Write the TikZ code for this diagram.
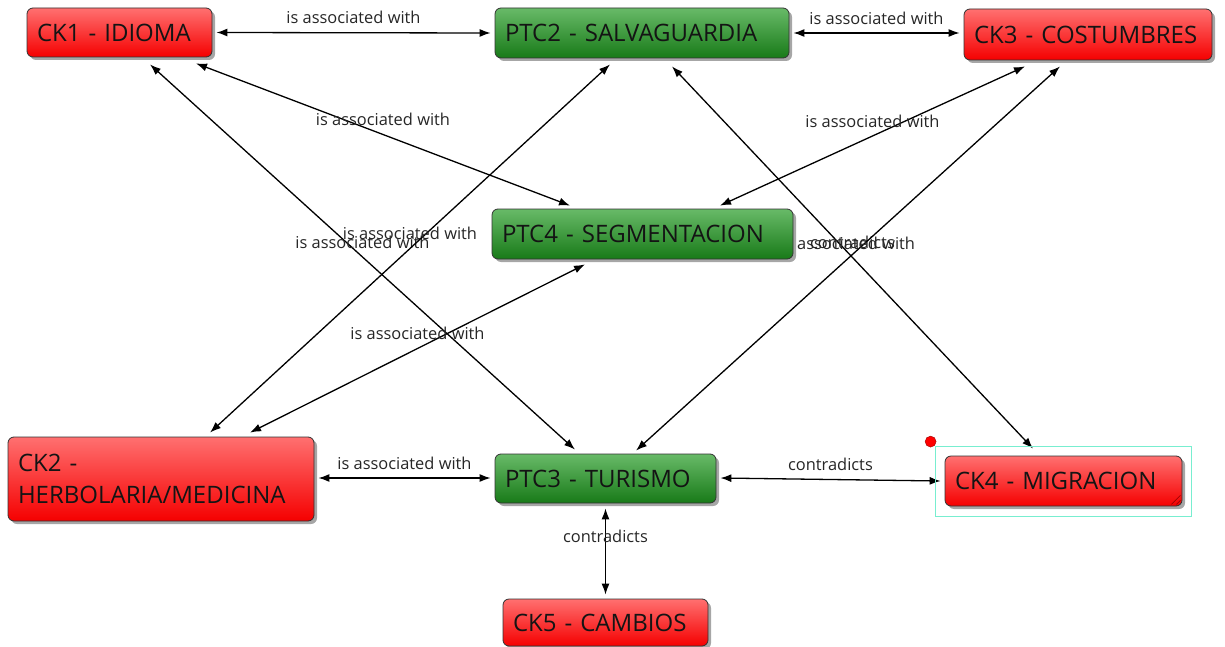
\documentclass[tikz,border=0pt]{standalone}
\usepackage{fontspec}
\setmainfont{Open Sans}
\usetikzlibrary{arrows.meta,shadows}
\pgfdeclarelayer{background}
\pgfsetlayers{background,main}
\newcommand\boxfont{\fontsize{24}{32}\selectfont}
\newcommand\linkfont{\fontsize{16.4}{19}\selectfont}
\definecolor{redtop}{RGB}{255,112,112}
\definecolor{redbot}{RGB}{245,0,0}
\definecolor{greentop}{RGB}{104,186,104}
\definecolor{greenbot}{RGB}{24,122,24}
\definecolor{selcol}{RGB}{120,238,208}
\tikzset{
  box/.style={draw=black!80, line width=0.8pt, rounded corners=6pt,
    inner xsep=10pt, inner ysep=0pt, align=left, text=black!92,
    font=\boxfont,
    drop shadow={shadow xshift=3pt, shadow yshift=-3pt, opacity=0.35, fill=black}},
  redbox/.style={box, top color=redtop, bottom color=redbot},
  greenbox/.style={box, top color=greentop, bottom color=greenbot},
  link/.style={draw=black, line width=1.3pt,
    {Latex[length=11pt,width=8pt]}-{Latex[length=11pt,width=8pt]}},
  lbl/.style={font=\linkfont, text=black!85, yshift=15pt, inner sep=0pt}
}
\begin{document}
\begin{tikzpicture}[x=1pt,y=-1pt]
\useasboundingbox (0,0) rectangle (1225,647);

% concept boxes
\node[redbox, minimum width=185pt, text width=165pt, minimum height=49pt] (ck1) at (119.5,32.5) {CK1 - IDIOMA};
\node[greenbox, minimum width=294pt, text width=274pt, minimum height=50pt] (ptc2) at (642,33) {PTC2 - SALVAGUARDIA};
\node[redbox, minimum width=248pt, text width=228pt, minimum height=51pt] (ck3) at (1088,34.5) {CK3 - COSTUMBRES};
\node[greenbox, minimum width=301pt, text width=281pt, minimum height=50pt] (ptc4) at (642.5,234) {PTC4 - SEGMENTACION};
\node[redbox, minimum width=306pt, text width=286pt, minimum height=84pt] (ck2) at (161,479) {CK2 -\\HERBOLARIA/MEDICINA};
\node[greenbox, minimum width=221pt, text width=201pt, minimum height=49pt] (ptc3) at (605.5,478.5) {PTC3 - TURISMO};
\node[redbox, minimum width=237pt, text width=217pt, minimum height=50pt] (ck4) at (1063.5,481) {CK4 - MIGRACION};
\node[redbox, minimum width=205pt, text width=185pt, minimum height=47pt] (ck5) at (605.5,622.5) {CK5 - CAMBIOS};

% selection frame, grip and marker on CK4
\draw[selcol, line width=1.3pt] ([shift={(-9pt,9pt)}]ck4.north west) rectangle ([shift={(9pt,-10pt)}]ck4.south east);
\draw[red!55!black, line width=0.6pt] ([shift={(-11pt,2pt)}]ck4.south east) -- ([shift={(-2pt,11pt)}]ck4.south east)
  ([shift={(-6pt,2pt)}]ck4.south east) -- ([shift={(-2pt,6pt)}]ck4.south east);
\node[circle, fill=red, draw=red!60!black, line width=0.4pt, minimum size=11pt, inner sep=0pt] (mark) at ([shift={(-14pt,14pt)}]ck4.north west) {};

% links
\begin{pgfonlayer}{background}
\draw[link] ([xshift=4pt]ck1.east) -- node[lbl]{is associated with} ([xshift=-4pt]ptc2.west);
\draw[link] ([xshift=4pt]ptc2.east) -- node[lbl]{is associated with} ([xshift=-4pt,yshift=1.5pt]ck3.west);
\draw[link] ([shift={(30.5pt,-7pt)}]ck1.south) -- node[lbl]{is associated with} ([shift={(-30.5pt,4pt)}]ptc3.north);
\draw[link] ([shift={(76.5pt,-6pt)}]ck1.south) -- node[lbl]{is associated with} ([shift={(-72.5pt,3pt)}]ptc4.north);
\draw[link] ([shift={(-32pt,-6pt)}]ptc2.south) -- node[lbl]{is associated with} ([shift={(49pt,4pt)}]ck2.north);
\draw[link] ([shift={(30pt,-8pt)}]ptc2.south) -- node[lbl]{contradicts} ([shift={(-30.5pt,7pt)}]ck4.north);
\draw[link] ([shift={(-63pt,-6pt)}]ck3.south) -- node[lbl]{is associated with} ([shift={(77.5pt,3pt)}]ptc4.north);
\draw[link] ([shift={(-28pt,-6pt)}]ck3.south) -- node[lbl]{is associated with} ([shift={(30.5pt,3pt)}]ptc3.north);
\draw[link] ([shift={(-57.5pt,-5pt)}]ptc4.south) -- node[lbl]{is associated with} ([shift={(89pt,4pt)}]ck2.north);
\draw[link] ([shift={(4pt,1pt)}]ck2.east) -- node[lbl]{is associated with} ([shift={(-4pt,0.5pt)}]ptc3.west);
\draw[link] ([shift={(4pt,0.5pt)}]ptc3.east) -- node[lbl]{contradicts} ([xshift=-4pt]ck4.west);
\draw[link] ([yshift=-5pt]ptc3.south) -- node[lbl]{contradicts} ([yshift=4pt]ck5.north);
\end{pgfonlayer}
\end{tikzpicture}
\end{document}
